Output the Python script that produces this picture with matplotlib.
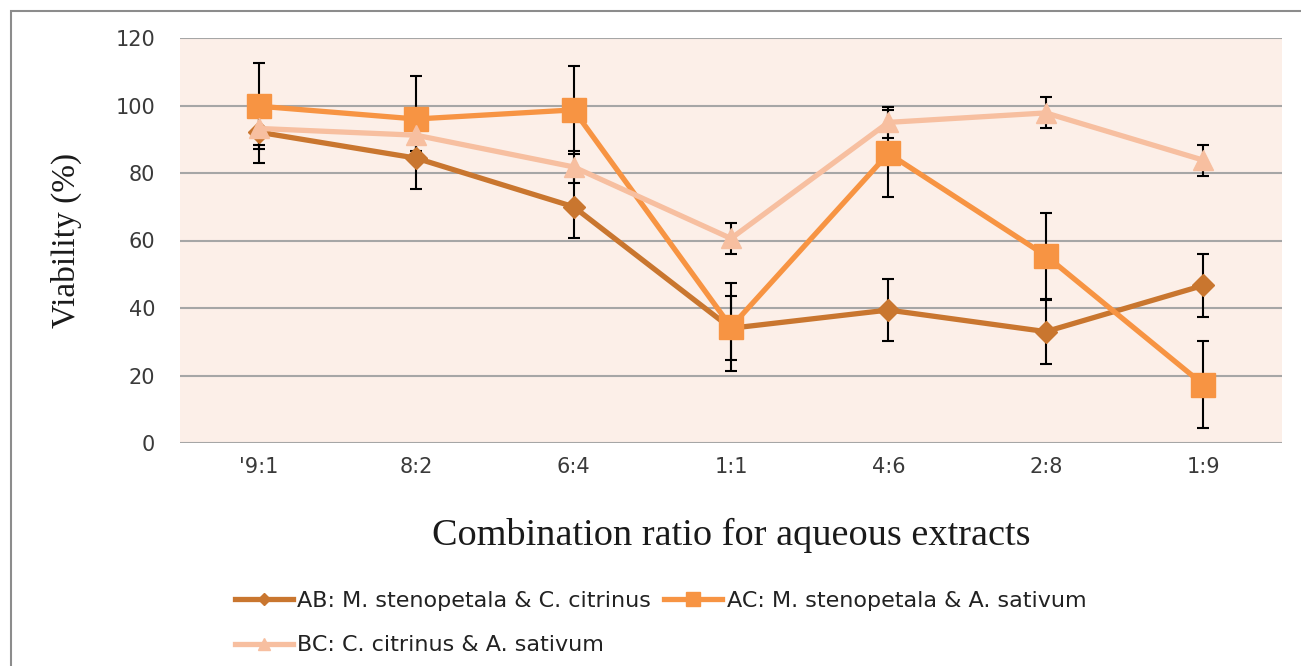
import matplotlib.pyplot as plt
from matplotlib.patches import Rectangle

ratios = ["'9:1", "8:2", "6:4", "1:1", "4:6", "2:8", "1:9"]

ab = [92.1, 84.4, 70.0, 34.0, 39.4, 33.0, 46.7]
ab_err = [9.0, 9.2, 9.3, 9.5, 9.3, 9.5, 9.4]

ac = [99.8, 96.0, 98.7, 34.4, 85.8, 55.5, 17.3]
ac_err = [12.8, 12.8, 13.0, 13.0, 13.0, 12.7, 13.0]

bc = [93.2, 91.2, 81.8, 60.6, 95.0, 97.8, 83.8]
bc_err = [4.8, 4.6, 4.7, 4.7, 4.6, 4.6, 4.6]

labels = ["AB: M. stenopetala & C. citrinus",
          "AC: M. stenopetala & A. sativum",
          "BC: C. citrinus & A. sativum"]

fig = plt.figure(figsize=(13.01, 6.66), dpi=100)
fig.patches.append(Rectangle((11 / 1301, -0.05), 1.2, 1 - 11 / 666 + 0.05,
                             transform=fig.transFigure, fill=False,
                             edgecolor='#8c8c8c', linewidth=1.5))
ax = fig.add_axes([180 / 1301, 1 - 443 / 666, 1102 / 1301, 405 / 666])
ax.set_facecolor('#fcefe8')

x = list(range(len(ratios)))

for vals, errs in [(ab, ab_err), (ac, ac_err), (bc, bc_err)]:
    ax.errorbar(x, vals, yerr=errs, fmt='none', ecolor='black',
                elinewidth=1.5, capsize=4, capthick=1.5, zorder=2)

l1, = ax.plot(x, ab, color='#c9762f', lw=3.8, marker='D', ms=11,
              zorder=3, label=labels[0])
l2, = ax.plot(x, ac, color='#f79443', lw=3.8, marker='s', ms=17,
              zorder=4, label=labels[1])
l3, = ax.plot(x, bc, color='#f7bfa0', lw=3.8, marker='^', ms=15,
              zorder=5, label=labels[2])

ax.set_xlim(-0.5, 6.5)
ax.set_ylim(0, 120)
ax.set_yticks(range(0, 121, 20))
ax.set_xticks(x)
ax.set_xticklabels(ratios)
ax.yaxis.grid(True, color='#a6a6a6', linewidth=1.5)
ax.set_axisbelow(True)
for s in ax.spines.values():
    s.set_visible(False)
ax.tick_params(axis='both', length=0, labelsize=15, colors='#3a3a3a')
ax.tick_params(axis='y', pad=18)
ax.tick_params(axis='x', pad=10)
for t in ax.get_xticklabels() + ax.get_yticklabels():
    t.set_fontfamily('DejaVu Sans')

ax.set_xlabel('Combination ratio for aqueous extracts', fontsize=27.5,
              family='Liberation Serif', color='#1a1a1a')
ax.xaxis.set_label_coords(0.5, (443 - 518) / 405)
ax.set_ylabel('Viability (%)', fontsize=24, family='Liberation Serif',
              color='#1a1a1a')
ax.yaxis.set_label_coords((82 - 180) / 1102, 0.5)

leg = fig.legend([l1, l3, l2], [labels[0], labels[2], labels[1]],
                 ncol=2, loc='upper left',
                 bbox_to_anchor=(226 / 1301, 1 - 582 / 666),
                 frameon=False, prop={'family': 'DejaVu Sans', 'size': 16},
                 handlelength=2.6, handletextpad=0.2, columnspacing=0.6,
                 labelspacing=1.1, markerscale=0.6, borderaxespad=0)
for t in leg.get_texts():
    t.set_color('#222222')

fig.savefig('out.png', dpi=100)
